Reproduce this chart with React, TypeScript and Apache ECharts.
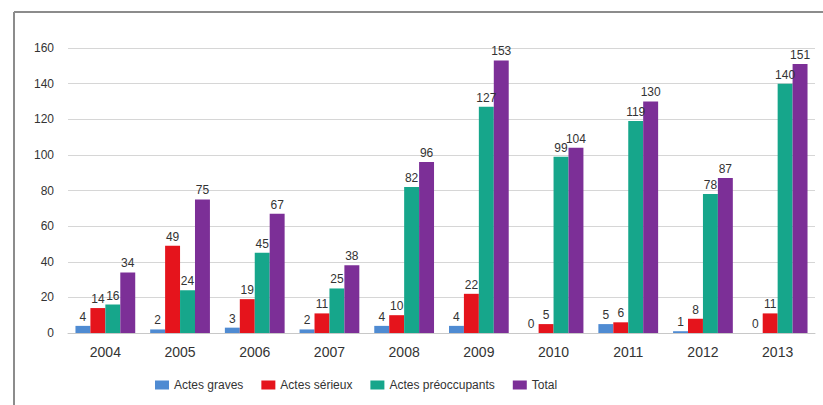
import React, { useEffect, useRef } from "react";
import * as echarts from "echarts";

const years = ["2004", "2005", "2006", "2007", "2008", "2009", "2010", "2011", "2012", "2013"];
const actesGraves = [4, 2, 3, 2, 4, 4, 0, 5, 1, 0];
const actesSerieux = [14, 49, 19, 11, 10, 22, 5, 6, 8, 11];
const actesPreoccupants = [16, 24, 45, 25, 82, 127, 99, 119, 78, 140];
const total = [34, 75, 67, 38, 96, 153, 104, 130, 87, 151];

const seriesNames = ["Actes graves", "Actes sérieux", "Actes préoccupants", "Total"];
const colors = ["#4f8bd2", "#e5141c", "#16a68b", "#7c2f97"];

const FONT = "'Liberation Sans Narrow', 'Liberation Sans', sans-serif";

export default function App() {
  const ref = useRef<HTMLDivElement>(null);
  useEffect(() => {
    if (!ref.current) return;
    const chart = echarts.init(ref.current, undefined, { renderer: "svg" });
    const datasets = [actesGraves, actesSerieux, actesPreoccupants, total];
    chart.setOption({
      animation: false,
      backgroundColor: "#ffffff",
      textStyle: { fontFamily: FONT },
      graphic: [
        { type: "line", shape: { x1: 14, y1: 12, x2: 823, y2: 12 }, style: { stroke: "#8c8c8c", lineWidth: 2 } },
        { type: "line", shape: { x1: 14, y1: 12, x2: 14, y2: 405 }, style: { stroke: "#8c8c8c", lineWidth: 2 } },
      ],
      legend: {
        data: seriesNames,
        left: 150,
        top: 374,
        itemWidth: 14,
        itemHeight: 9,
        itemGap: 18,
        icon: "rect",
        textStyle: { fontFamily: FONT, fontSize: 12, color: "#333" },
      },
      grid: { left: 68, right: 8, top: 48, bottom: 72 },
      xAxis: {
        type: "category",
        data: years,
        axisTick: { show: false },
        axisLine: { lineStyle: { color: "#c8c8c8", width: 1 } },
        axisLabel: { fontFamily: FONT, fontSize: 14, color: "#333", margin: 12 },
      },
      yAxis: {
        type: "value",
        min: 0,
        max: 160,
        interval: 20,
        axisLine: { show: false },
        axisTick: { show: false },
        splitLine: { lineStyle: { color: "#d6d6d6", width: 1 } },
        axisLabel: { fontFamily: FONT, fontSize: 12, color: "#333", margin: 14 },
      },
      series: datasets.map((d, i) => ({
        name: seriesNames[i],
        type: "bar",
        data: d,
        barGap: "0%",
        barCategoryGap: "20%",
        itemStyle: { color: colors[i] },
        label: {
          show: true,
          position: "top",
          distance: 3,
          fontFamily: FONT,
          fontSize: 12,
          color: "#333",
        },
      })),
    });
    return () => chart.dispose();
  }, []);
  return (
    <div
      ref={ref}
      style={{ position: "absolute", left: 0, top: 0, width: 823, height: 405 }}
    />
  );
}
